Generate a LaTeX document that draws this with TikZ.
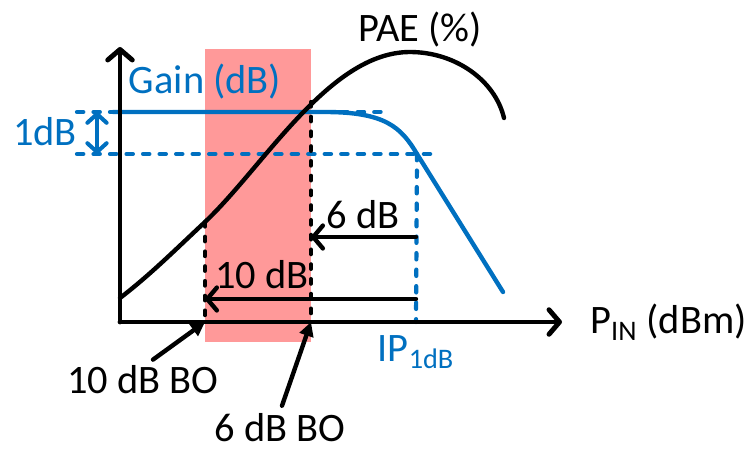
\documentclass[tikz,border=0pt]{standalone}
\usepackage{fontspec}
\setmainfont{Carlito}
\usetikzlibrary{arrows.meta}
\definecolor{gainblue}{RGB}{0,112,192}
\definecolor{boxred}{RGB}{255,153,153}
\begin{document}
\begin{tikzpicture}[x=0.02cm, y=0.02cm,
        font=\fontsize{23}{27}\selectfont,
        axis/.style={line width=2.8pt, line cap=round, line join=round, -{Straight Barb[length=6pt,width=14pt,round]}},
        curve/.style={line width=2.5pt, line cap=round},
        bluedash/.style={gainblue, line width=2.4pt, line cap=round, dash pattern=on 3.6pt off 5.8pt},
        blackdash/.style={black, line width=2.4pt, line cap=round, dash pattern=on 2.6pt off 5.8pt},
        spanarrow/.style={line width=2.5pt, line cap=round, -{Straight Barb[length=5.5pt,width=13pt,round]}},
        boarrow/.style={line width=2.5pt, line cap=round, -{Triangle[length=8pt,width=8pt]}}]
        \useasboundingbox (0,0) rectangle (750,451);

        % Oblast backoffu
        \fill[boxred] (205,109) rectangle (311,402);

        % Body na osach
        \coordinate (O) at (120,129);
        \coordinate (ytip) at (120,404);
        \coordinate (xtip) at (562,129);
        \coordinate (bo10) at (205,129);
        \coordinate (bo6) at (311,129);
        \coordinate (ip) at (416,129);
        \coordinate (sat) at (417,297);

        % Hranice 1dB
        \draw[bluedash] (77,339) -- (390,339);
        \draw[bluedash] (77,297) -- (437,297);
        \draw[bluedash] (sat) -- (ip);
        \draw[gainblue, line width=2.3pt, {Straight Barb[length=5pt,width=11pt,round]}-{Straight Barb[length=5pt,width=11pt,round]}] (97,339) -- (97,297);

        % Zisk
        \draw[curve, gainblue] (113,339) -- (325,339) .. controls (385,339) and (401,324) .. (sat) -- (503,159);

        % PAE
        \draw[curve] (120,153) .. controls (150,176) and (175,201) .. (205,229)
            .. controls (265,286) and (330,399) .. (410,399)
            .. controls (455,399) and (495,371) .. (504,333);

        % Svisle carkovane cary
        \draw[blackdash] (311,349) -- (bo6);
        \draw[blackdash] (205,229) -- (bo10);

        % Backoff sipky
        \coordinate (sixR) at (416,214);
        \coordinate (sixL) at (311,214);
        \coordinate (tenR) at (416,152);
        \coordinate (tenL) at (205,152);
        \draw[spanarrow] (sixR) -- (sixL);
        \draw[spanarrow] (tenR) -- (tenL);

        % Osy
        \draw[axis] (O) -- (ytip);
        \draw[axis] (O) -- (xtip);

        % Popisky
        \node[gainblue] (gainlbl) at (205,369) {Gain (dB)};
        \node[gainblue] (onedb) at (45,319) {1dB};
        \node (paelbl) at (420,421) {PAE (\%)};
        \node[anchor=west, inner sep=0pt] (pinlbl) at (590,129) {P\textsubscript{IN} (dBm)};
        \node[gainblue] (iplbl) at (416,99) {IP\textsubscript{1dB}};
        \node (sixlbl) at (363,236) {6 dB};
        \node (tenlbl) at (262,176) {10 dB};
        \node (bo10lbl) at (143,71) {10 dB BO};
        \node[inner sep=1pt] (bo6lbl) at (280,23) {6 dB BO};

        \draw[boarrow] ([xshift=0.2cm]bo10lbl.north) -- (bo10);
        \draw[boarrow] ([xshift=0.04cm, yshift=0.12cm]bo6lbl.north) -- (bo6);
    \end{tikzpicture}
\end{document}
